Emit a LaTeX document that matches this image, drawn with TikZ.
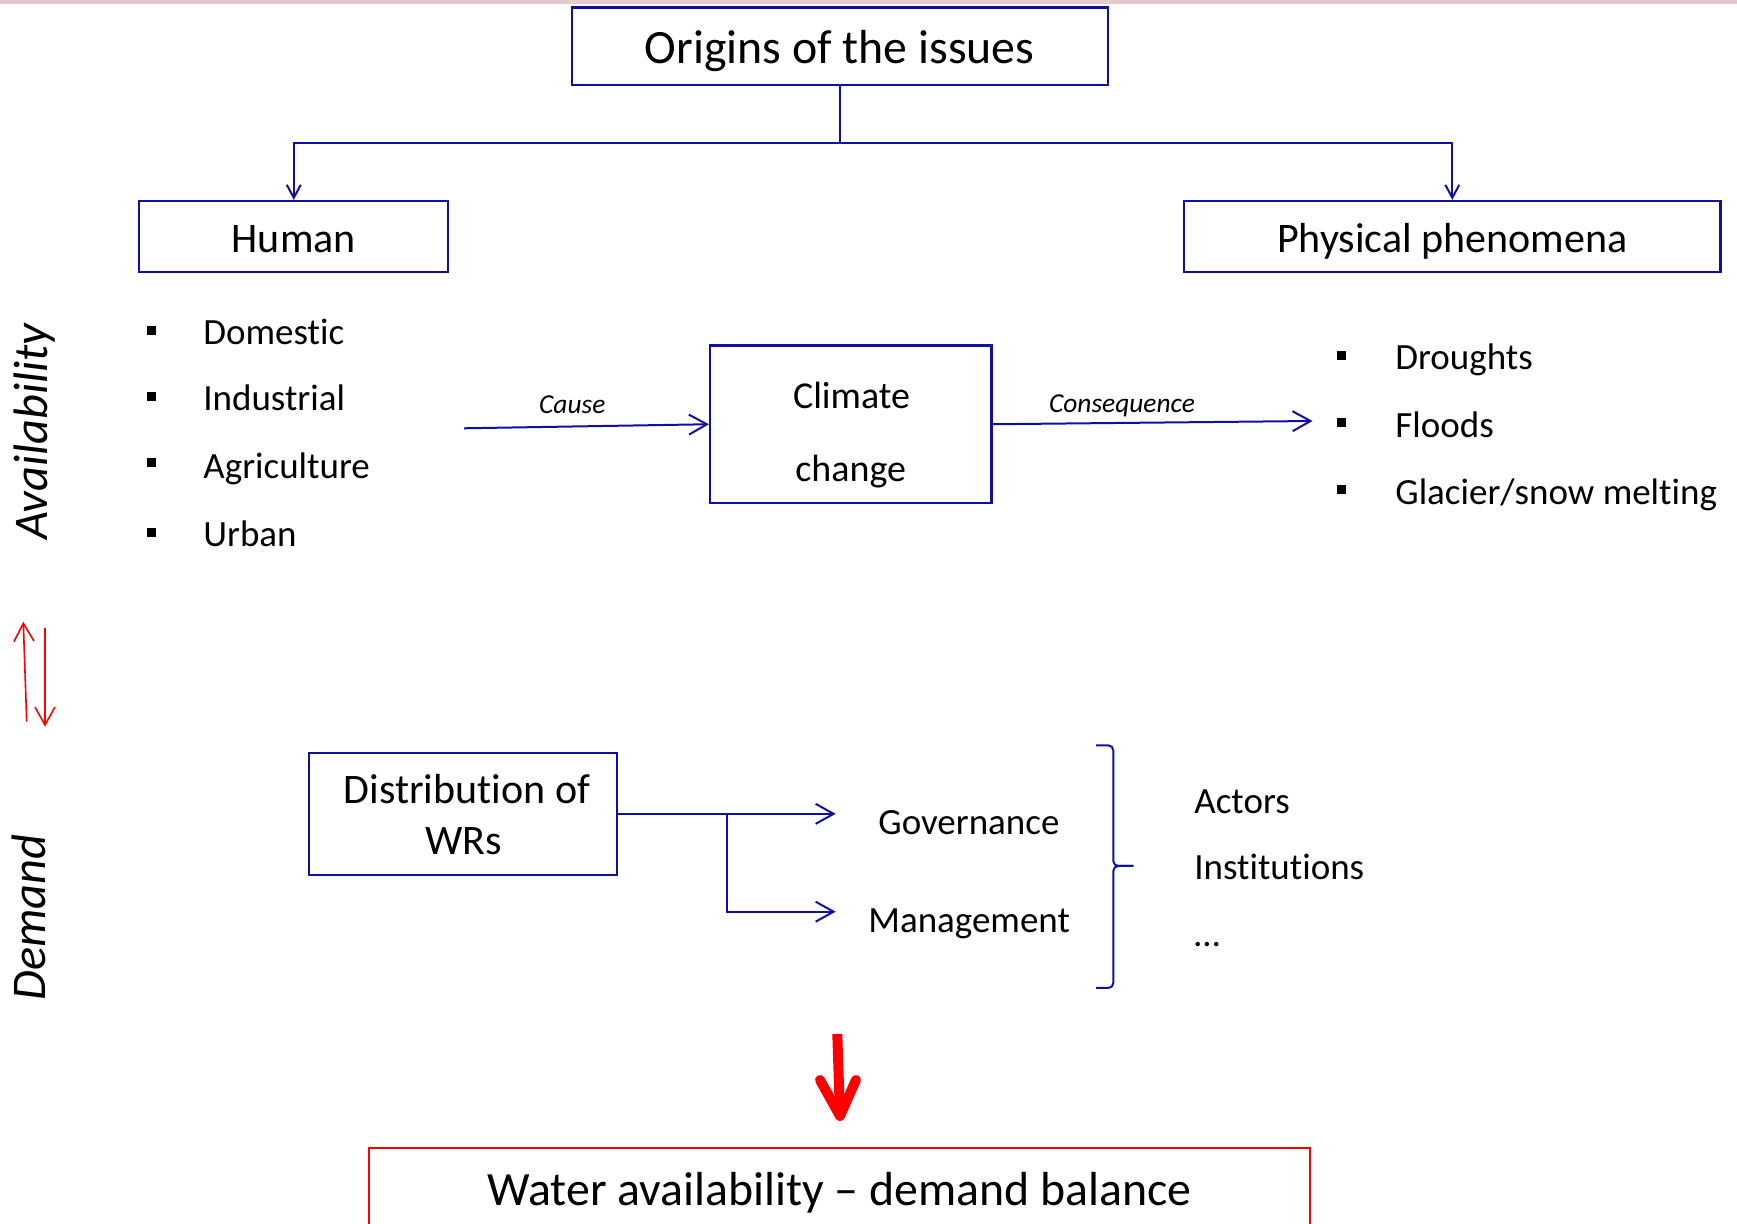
\documentclass[tikz,border=0pt]{standalone}
\usepackage{fontspec}
\setmainfont{Carlito}[RawFeature={-liga;-clig;-calt;-dlig;-hlig}]
\usetikzlibrary{arrows.meta}
\definecolor{navy}{RGB}{16,16,160}
\definecolor{pinkbar}{RGB}{230,200,205}
\newcommand\fntBig{\fontsize{23.9}{28}\selectfont}
\newcommand\fntBoxT{\fontsize{21}{25}\selectfont}
\newcommand\fntBody{\fontsize{18.5}{22}\selectfont}
\newcommand\fntClim{\fontsize{19}{23}\selectfont}
\newcommand\fntLbl{\fontsize{13.7}{16}\selectfont\itshape}
\newcommand\fntSide{\fontsize{24.2}{28}\selectfont\itshape}
\begin{document}
\begin{tikzpicture}[x=0.5pt,y=-0.5pt,
  box/.style={draw=navy, line width=1.1pt, inner sep=0pt},
  conn/.style={draw=navy, line width=1pt},
  bigtip/.style={-{Straight Barb[length=9pt,width=10pt]}},
  smalltip/.style={-{Straight Barb[length=6.5pt,width=7pt]}},
  item/.style={font=\fntBody, inner sep=0pt, anchor=base west},
  sq/.style={fill=black, minimum size=4.6pt, inner sep=0pt},
  lbl/.style={font=\fntLbl, inner sep=0pt, anchor=base},
  side/.style={font=\fntSide, inner sep=0pt, anchor=base, rotate=90},
  redthin/.style={draw=red, line width=0.8pt, -{Straight Barb[length=9pt,width=10pt]}},
  bigred/.style={draw=red, line width=5pt}
]
\useasboundingbox (0,0) rectangle (1737,1224);
\clip (0,0) rectangle (1737,1224);
\fill[pinkbar] (0,0) rectangle (1737,4);

% top level
\node[box, minimum width=268.1pt, minimum height=38.9pt, font=\fntBig,
      text height=17.6pt, text depth=0pt] (orig) at (839.7,46.4) {Origins of the issues};
\node[box, minimum width=154.5pt, minimum height=35.35pt, font=\fntBoxT,
      text height=15.7pt, text depth=0pt] (hum) at (293.8,236.35) {Human};
\node[box, minimum width=268.1pt, minimum height=35.35pt, font=\fntBoxT,
      text height=15.7pt, text depth=0pt] (phys) at (1452.3,236.35) {Physical phenomena};
\coordinate (split) at (839.7,142.9);
\draw[conn, smalltip] (orig.south) -- (split) -| (hum.north);
\draw[conn, smalltip] (split) -| (phys.north);

% human list
\foreach \t/\b/\s [count=\i] in {Domestic/344.4/330.7, Industrial/410.4/396.7, Agriculture/478.3/462.4, Urban/546.1/532.4}{
  \node[sq] (lsq\i) at (151.7,\s) {};
  \node[item] (lit\i) at (203,\b) {\t};
}
% physical list
\foreach \t/\b/\s [count=\i] in {Droughts/369.8/355.3, Floods/438/422.7, Glacier\slash snow melting/504.7/489.4}{
  \node[sq] (rsq\i) at (1341.7,\s) {};
  \node[item] (rit\i) at (1395,\b) {\t};
}

% climate change
\node[box, minimum width=140.7pt, minimum height=78.65pt] (clim) at (850.8,424.25) {};
\node[font=\fntClim, inner sep=0pt, anchor=base] (climA) at (851.6,408.4) {Climate};
\node[font=\fntClim, inner sep=0pt, anchor=base] (climB) at (850.7,481.2) {change};
\coordinate (causeS) at (464.1,428.3);
\coordinate (consE) at (1312.6,421);
\draw[conn, bigtip] (causeS) -- (clim.west)
  node[lbl, pos=0.4416, yshift=6.7pt] (causeL) {Cause};
\draw[conn, bigtip] (clim.east) -- (consE)
  node[lbl, pos=0.4045, yshift=5.35pt] (consL) {Consequence};

% side labels
\node[side] (avail) at (47,431.5) {Availability};
\node[side] (dem) at (46,917.8) {Demand};
\coordinate (upS) at (26.7,721.7);
\coordinate (upE) at (23.3,621.7);
\coordinate (dnS) at (45,628.3);
\coordinate (dnE) at (45,726.7);
\draw[redthin] (upS) -- (upE);
\draw[redthin] (dnS) -- (dnE);

% distribution
\node[box, minimum width=154.05pt, minimum height=61.15pt] (dist) at (463.25,813.85) {};
\node[font=\fntBoxT, inner sep=0pt, anchor=base] (distA) at (467,803.9) {Distribution of};
\node[font=\fntBoxT, inner sep=0pt, anchor=base] (distB) at (463.8,855) {WRs};
\coordinate (br) at (726.5,813.85);
\coordinate (govT) at (835.7,813.85);
\coordinate (mgmT) at (835.7,911.7);
\draw[conn, bigtip] (dist.east) -- (govT);
\draw[conn, bigtip] (br) |- (mgmT);
\node[item] (gov) at (878,835) {Governance};
\node[item] (mgm) at (868,932.7) {Management};

% brace
\draw[conn, rounded corners=2.5pt] (1096,745.3) -- (1113.3,745.3) -- (1113.3,866) -- (1133.3,866);
\draw[conn, rounded corners=2.5pt] (1133.3,866) -- (1113.3,866) -- (1113.3,988) -- (1096,988);
\node[item] (act) at (1194,813.9) {Actors};
\node[item] (inst) at (1194,879.4) {Institutions};
\node[item] (etc) at (1194,946.6) {…};

% big red arrow
\coordinate (bigS) at (837.3,1034);
\coordinate (bigE) at (840,1116);
\coordinate (wingL) at (820,1080);
\coordinate (wingR) at (856,1080);
\draw[bigred] (bigS) -- (bigE);
\draw[bigred, line cap=round, line join=round] (wingL) -- (bigE) -- (wingR);

% bottom box
\node[draw=red, line width=1.1pt, inner sep=0pt, minimum width=470.35pt, minimum height=39.7pt,
      font=\fntBig, text height=17.6pt, text depth=0pt] (bal) at (839.45,1188)
      {Water availability – demand balance};
\end{tikzpicture}
\end{document}
